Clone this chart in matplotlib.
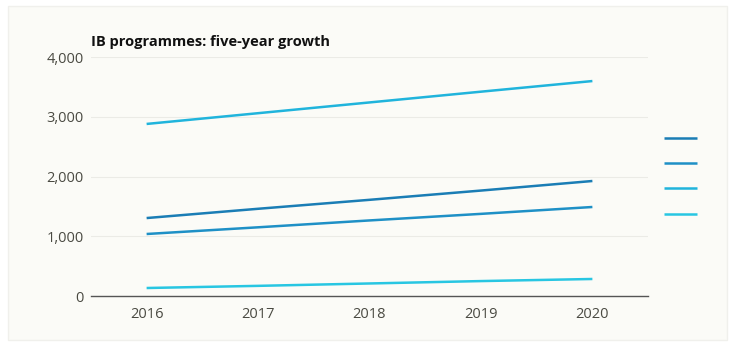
import matplotlib
matplotlib.use('Agg')
import matplotlib.pyplot as plt
from matplotlib.patches import Rectangle

years = [2016, 2017, 2018, 2019, 2020]
# four IB programmes
series_a = [1305, 1460, 1610, 1765, 1925]
series_b = [1038, 1150, 1265, 1375, 1490]
series_c = [2880, 3060, 3240, 3420, 3598]
series_d = [134, 170, 210, 250, 285]
legend_labels = ['', '', '', '']
colors = ['#1a7db5', '#1e90c6', '#20b4dc', '#28c6e2']
yticks = [0, 1000, 2000, 3000, 4000]

plt.rcParams['font.family'] = ['Open Sans', 'DejaVu Sans']

fig = plt.figure(figsize=(7.39, 3.56), dpi=100)
fig.patch.set_facecolor('white')
# light panel behind the chart
fig.add_artist(Rectangle((8 / 739, 16 / 356), 719 / 739, 334 / 356,
                         transform=fig.transFigure, facecolor='#fbfbf7',
                         edgecolor='#f0f0ec', linewidth=1, zorder=-5))

ax = fig.add_axes([0.123, 0.1685, 0.754, 0.6713])
ax.set_facecolor('none')
ax.set_zorder(1)

lines = []
for vals, c in zip([series_a, series_b, series_c, series_d], colors):
    ln, = ax.plot(years, vals, color=c, linewidth=1.8, solid_capstyle='butt')
    lines.append(ln)

ax.set_xlim(2015.5, 2020.5)
ax.set_ylim(0, 4000)
ax.set_xticks(years)
ax.set_yticks(yticks)
ax.set_yticklabels([f'{v:,}' for v in yticks])
ax.tick_params(axis='both', length=0, labelsize=10.5, colors='#4a4a42')
ax.tick_params(axis='x', pad=8)
ax.tick_params(axis='y', pad=5)
ax.grid(axis='y', color='#ebebe6', linewidth=0.8)
ax.set_axisbelow(True)
for s in ['top', 'right', 'left']:
    ax.spines[s].set_visible(False)
ax.spines['bottom'].set_color('#555555')
ax.spines['bottom'].set_linewidth(1)

fig.text(91 / 739, 1 - 42 / 356, 'IB programmes: five-year growth',
         fontsize=10.5, fontweight='bold', color='#111111', va='center')

fig.legend(lines, legend_labels, loc='center left',
           bbox_to_anchor=(651 / 739, 1 - 177 / 356), frameon=False,
           handlelength=2.4, labelspacing=0.75, handletextpad=0)

fig.savefig('out.png', dpi=100, facecolor=fig.get_facecolor())
